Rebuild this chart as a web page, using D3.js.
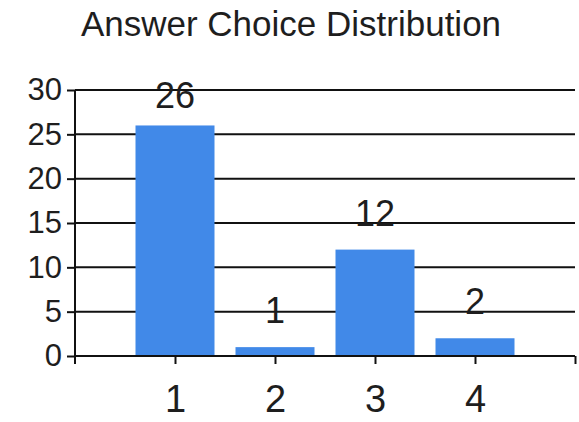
<!DOCTYPE html>
<html>
<head>
<meta charset="utf-8">
<script src="https://cdn.jsdelivr.net/npm/d3@7"></script>
<style>
  body { margin: 0; background: #fff; }
  text { font-family: "Liberation Sans", Arial, sans-serif; fill: #1e1e1e; }
</style>
</head>
<body>
<svg id="chart" width="579" height="422"></svg>
<script>
// Chart data
const title = 'Answer Choice Distribution';
const categories = [1, 2, 3, 4];
const counts = [26, 1, 12, 2];
const yTicks = [0, 5, 10, 15, 20, 25, 30];

const svg = d3.select('#chart');
const plotLeft = 75, plotRight = 575, plotTop = 90, plotBottom = 356;

// x is a plain linear scale, bars sit on the ticks like in the old chart
const x = d3.scaleLinear().domain([0, 5]).range([plotLeft, plotRight]);
const y = d3.scaleLinear().domain([0, 30]).range([plotBottom, plotTop]);
const barW = x(0.79) - x(0);

// Title
svg.append('text')
  .attr('x', 291)
  .attr('y', 36)
  .attr('text-anchor', 'middle')
  .style('font-size', '35px')
  .text(title);

// Gridlines
svg.append('g')
  .selectAll('line')
  .data(yTicks.slice(1))
  .join('line')
  .attr('x1', plotLeft)
  .attr('x2', plotRight)
  .attr('y1', d => y(d))
  .attr('y2', d => y(d))
  .attr('stroke', '#111')
  .attr('stroke-width', 2);

// Bars
svg.append('g')
  .selectAll('rect')
  .data(categories)
  .join('rect')
  .attr('x', d => x(d) - barW / 2)
  .attr('y', (d, i) => y(counts[i]))
  .attr('width', barW)
  .attr('height', (d, i) => y(0) - y(counts[i]))
  .attr('fill', '#4189e8');

// Value labels, kept inside the top of the plot
svg.append('g')
  .selectAll('text')
  .data(categories)
  .join('text')
  .attr('x', d => x(d))
  .attr('y', (d, i) => Math.max(y(counts[i]) - 24, plotTop + 18))
  .attr('text-anchor', 'middle')
  .style('font-size', '36px')
  .text((d, i) => counts[i]);

// Y axis
const yAxis = svg.append('g')
  .attr('transform', `translate(${plotLeft},0)`)
  .call(d3.axisLeft(y).tickValues(yTicks).tickSize(8).tickPadding(5).tickSizeOuter(0));
yAxis.select('.domain').attr('stroke', '#111').attr('stroke-width', 2)
  .attr('d', `M0,${plotTop}V${plotBottom + 8}`);
yAxis.selectAll('.tick line').attr('stroke', '#111').attr('stroke-width', 2);
yAxis.selectAll('.tick text').style('font-size', '31px').attr('fill', '#1e1e1e')
  .style('font-family', '"Liberation Sans", Arial, sans-serif');

// X axis
const xAxis = svg.append('g')
  .attr('transform', `translate(0,${plotBottom})`)
  .call(d3.axisBottom(x).tickValues([1, 2, 3, 4, 5]).tickSize(8).tickPadding(21).tickSizeOuter(0)
    .tickFormat(d => categories.includes(d) ? d : ''));
xAxis.select('.domain').attr('stroke', '#111').attr('stroke-width', 2)
  .attr('d', `M${plotLeft},0H${plotRight}`);
xAxis.selectAll('.tick line').attr('stroke', '#111').attr('stroke-width', 2);
xAxis.selectAll('.tick text').style('font-size', '38px').attr('fill', '#1e1e1e')
  .style('font-family', '"Liberation Sans", Arial, sans-serif');
</script>
</body>
</html>
